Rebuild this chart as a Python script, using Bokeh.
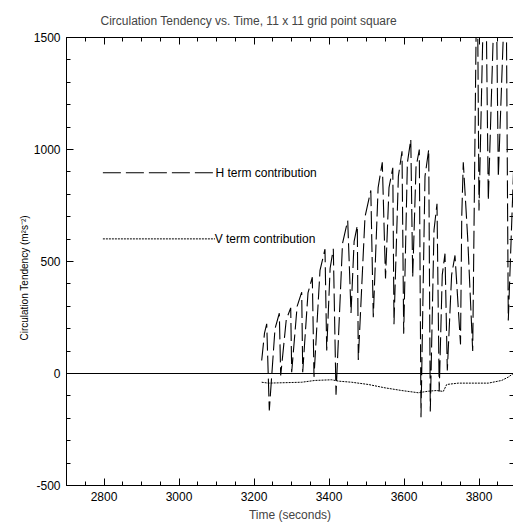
from bokeh.core.properties import value
from bokeh.embed import file_html
from bokeh.models import (CustomJSTickFormatter, LinearAxis, PrintfTickFormatter,
                          Range1d, SingleIntervalTicker, Span, Title)
from bokeh.plotting import figure
from bokeh.resources import INLINE

# Horizontal-advection (H) term of the circulation tendency, m^2 s^-2
h_time = [
    3220.5, 3228, 3233.9, 3240.8, 3256, 3267.5, 3271.2, 3286, 3297.9, 3300.5,
    3315, 3327.2, 3329.9, 3344, 3355.5, 3360, 3376, 3389.3, 3393.9, 3403,
    3411.5, 3418.7, 3436, 3449.9, 3458.7, 3467, 3475.5, 3478.1, 3496, 3511.5,
    3518.1, 3531, 3542.1, 3550.7, 3560, 3570.1, 3573.3, 3585, 3594.7, 3599.2,
    3609, 3618.1, 3623.2, 3632, 3640.8, 3645.3, 3656, 3665.9, 3670.1, 3680,
    3688, 3693.9, 3702, 3709.3, 3715.5, 3727, 3736, 3750.7, 3754, 3758.1,
    3770, 3783.2, 3795, 3800, 3810, 3818, 3824.8, 3845, 3851.5, 3872,
    3878.1, 3892,
]
h_val = [
    58, 180, 222, -165, 200, 269, -9, 240, 293, 6,
    300, 363, 6, 360, 430, -15, 460, 555, 103, 470,
    557, -95, 580, 683, 270, 590, 660, 60, 700, 817,
    251, 830, 943, 424, 830, 918, 220, 880, 992, 178,
    940, 1045, 430, 920, 1000, -195, 880, 1000, -170, 640,
    758, -80, 440, 535, 13, 440, 527, 130, 700, 943,
    600, 100, 1950, 728, 1500, 1800, 772, 1900, 876, 1850,
    237, 900,
]

# Vertical (V) term of the circulation tendency, m^2 s^-2
v_time = [
    3220.5, 3238.1, 3327.2, 3362.7, 3407.2, 3424.8, 3460.5, 3504.8, 3549.3,
    3593.9, 3638.1, 3664.8, 3687.2, 3704.8, 3713.9, 3744.8, 3824.8, 3860.5,
    3878.1, 3890.7,
]
v_val = [
    -39, -43, -39, -31, -28, -34, -39, -49, -64,
    -76, -86, -79, -76, -80, -49, -43, -43, -31,
    -16, -1,
]

FONT = "Liberation Sans"

p = figure(
    width=513, height=525,
    x_range=Range1d(2700, 3892), y_range=Range1d(-500, 1500),
    output_backend="svg", toolbar_location=None,
    min_border_left=66, min_border_right=0,
    min_border_top=37, min_border_bottom=40,
)
p.outline_line_color = None
p.xgrid.visible = False
p.ygrid.visible = False
p.background_fill_color = "white"
p.border_fill_color = "white"

p.title.text = "Circulation Tendency vs. Time, 11 x 11 grid point square"
p.title.text_font = FONT
p.title.text_font_size = "12px"
p.title.text_font_style = "normal"
p.title.align = "left"
p.title.offset = 34
p.title.standoff = 19


def style_axis(ax, ticker, show_labels):
    ax.ticker = ticker
    ax.axis_line_color = "black"
    ax.major_tick_line_color = "black"
    ax.minor_tick_line_color = "black"
    ax.major_tick_in = 7
    ax.major_tick_out = 0
    ax.minor_tick_in = 4
    ax.minor_tick_out = 0
    ax.axis_label_standoff = 0
    if show_labels:
        ax.formatter = PrintfTickFormatter(format="%d")
        ax.major_label_text_font = FONT
        ax.major_label_text_font_size = "12px"
        ax.major_label_text_color = "black"
        ax.major_label_standoff = 6
    else:
        ax.formatter = CustomJSTickFormatter(code="return ''")
        ax.major_label_text_color = None
        ax.major_label_standoff = 0


def x_ticker():
    return SingleIntervalTicker(interval=200, num_minor_ticks=4)


def y_ticker():
    return SingleIntervalTicker(interval=500, num_minor_ticks=5)


style_axis(p.xaxis[0], x_ticker(), True)
style_axis(p.yaxis[0], y_ticker(), True)
p.xaxis[0].axis_label = "Time (seconds)"
p.xaxis[0].axis_label_text_font = FONT
p.xaxis[0].axis_label_text_font_size = "12px"
p.xaxis[0].axis_label_text_font_style = "normal"
p.xaxis[0].axis_label_standoff = 4

top_axis = LinearAxis()
style_axis(top_axis, x_ticker(), False)
p.add_layout(top_axis, "above")

right_axis = LinearAxis()
style_axis(right_axis, y_ticker(), False)
right_axis.axis_line_color = None
p.add_layout(right_axis, "right")

# vertical axis title, set a little below the frame's middle
p.add_layout(Title(
    text="Circulation Tendency (m²s⁻²)", align="left", offset=145,
    text_font=FONT, text_font_size="10px", text_font_style="normal",
    text_color="black", standoff=2,
), "left")

# zero reference line
p.add_layout(Span(location=0, dimension="width", line_color="black", line_width=1))

# tendency curves
p.line(h_time, h_val, line_color="black", line_width=1.1, line_dash="18 5")
p.line(v_time, v_val, line_color="black", line_width=1, line_dash="2 1")

# in-plot key
p.line([2797, 3096], [896, 896], line_color="black", line_width=1.1, line_dash="18 5")
p.line([2797, 3096], [601, 601], line_color="black", line_width=1, line_dash="2 1")
p.text([3097, 3095], [896, 601], text=["H term contribution", "V term contribution"],
       text_font=value(FONT), text_font_size="12px", text_color="black",
       text_align="left", text_baseline="middle")

open("out.html", "w").write(file_html(p, INLINE))
